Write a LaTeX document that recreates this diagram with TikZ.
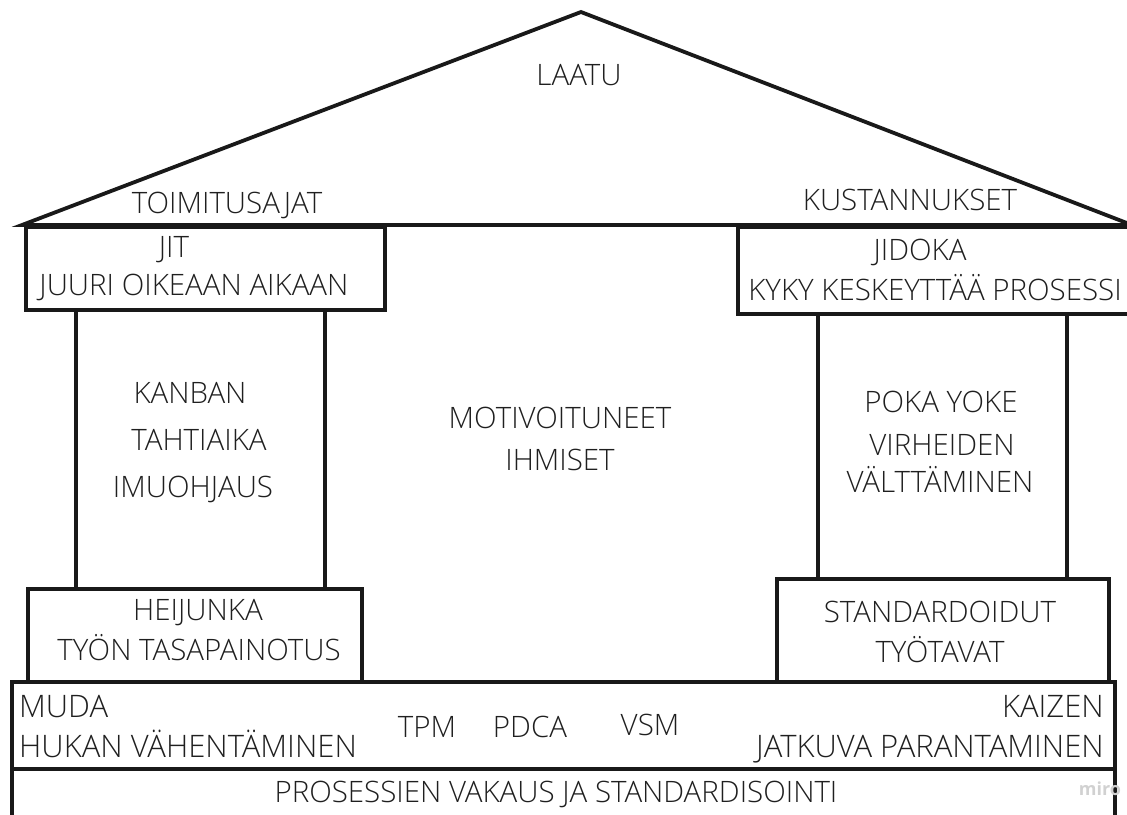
\documentclass[tikz,border=0pt]{standalone}
\usepackage{fontspec}
\IfFontExistsTF{Open Sans Light}{\setmainfont{Open Sans Light}}{\setmainfont{Open Sans}}
\newfontfamily\wmfont{Open Sans}
\begin{document}
\begin{tikzpicture}[x=1pt,y=-1pt,
  edge/.style={draw=black!90,line width=3.8pt,line join=miter},
  boxshape/.style={edge,rectangle,inner sep=0pt,anchor=north west},
  lbl/.style={inner sep=0pt,anchor=base,text=black!88,font=\fontsize{29.5}{31}\selectfont},
  lblw/.style={lbl,anchor=base west,font=\fontsize{31}{33}\selectfont},
  lble/.style={lbl,anchor=base east,font=\fontsize{31}{33}\selectfont},
  wmtext/.style={inner sep=0pt,anchor=base,text=black!18,font=\wmfont\fontsize{18}{20}\selectfont\bfseries}]
\useasboundingbox (0,0) rectangle (1127,814);
\clip (0,0) rectangle (1127,814);

% roof
\coordinate (eaveL) at (22,225);
\coordinate (apex) at (581,12);
\coordinate (eaveR) at (1132,225);
\draw[edge] (eaveL) -- (apex) -- (eaveR) -- cycle;

% left pillar
\node[boxshape,minimum width=359pt,minimum height=83pt] (jit) at (24,225) {};
\node[boxshape,minimum width=249pt,minimum height=279pt] (kanban) at (74,308) {};
\node[boxshape,minimum width=334pt,minimum height=93pt] (heijunka) at (26,587) {};

% right pillar
\node[boxshape,minimum width=396pt,minimum height=87pt] (jidoka) at (736,225) {};
\node[boxshape,minimum width=249pt,minimum height=265pt] (pokayoke) at (816,312) {};
\node[boxshape,minimum width=332pt,minimum height=103pt] (standard) at (775,577) {};

% foundation
\node[boxshape,minimum width=1103pt,minimum height=87pt] (muda) at (10,680) {};
\node[boxshape,minimum width=1103pt,minimum height=60pt] (vakaus) at (10,767) {};

% roof texts
\node[lbl] (laatu) at (579,85) {LAATU};
\node[lbl] (toimitus) at (227,213) {TOIMITUSAJAT};
\node[lbl] (kustannus) at (910,210) {KUSTANNUKSET};

% left pillar texts
\node[lbl] (t-jit) at (174,257) {JIT};
\node[lbl] (t-juuri) at (194,295) {JUURI OIKEAAN AIKAAN};
\node[lbl] (t-kanban) at (190,403) {KANBAN};
\node[lbl] (t-tahti) at (199,450) {TAHTIAIKA};
\node[lbl] (t-imu) at (193,497) {IMUOHJAUS};
\node[lbl] (t-heij) at (198,620) {HEIJUNKA};
\node[lbl] (t-tyon) at (199,660) {TYÖN TASAPAINOTUS};

% centre texts
\node[lbl] (t-motiv) at (560,428) {MOTIVOITUNEET};
\node[lbl] (t-ihm) at (560,470) {IHMISET};

% right pillar texts
\node[lbl] (t-jidoka) at (920,260) {JIDOKA};
\node[lbl] (t-kyky) at (935,300) {KYKY KESKEYTTÄÄ PROSESSI};
\node[lbl] (t-poka) at (941,412) {POKA YOKE};
\node[lbl] (t-virh) at (942,455) {VIRHEIDEN};
\node[lbl] (t-valt) at (940,492) {VÄLTTÄMINEN};
\node[lbl] (t-stand) at (940,622) {STANDARDOIDUT};
\node[lbl] (t-tyot) at (940,662) {TYÖTAVAT};

% foundation texts
\node[lblw] (t-muda) at (19,717) {MUDA};
\node[lblw] (t-hukan) at (19,757) {HUKAN VÄHENTÄMINEN};
\node[lble] (t-kaizen) at (1104,717) {KAIZEN};
\node[lble] (t-jatk) at (1104,757) {JATKUVA PARANTAMINEN};
\node[lbl] (t-tpm) at (427,737) {TPM};
\node[lbl] (t-pdca) at (530,737) {PDCA};
\node[lbl] (t-vsm) at (650,735) {VSM};
\node[lbl] (t-pros) at (556,802) {PROSESSIEN VAKAUS JA STANDARDISOINTI};

\node[wmtext] (miro) at (1100,795) {miro};
\end{tikzpicture}
\end{document}
